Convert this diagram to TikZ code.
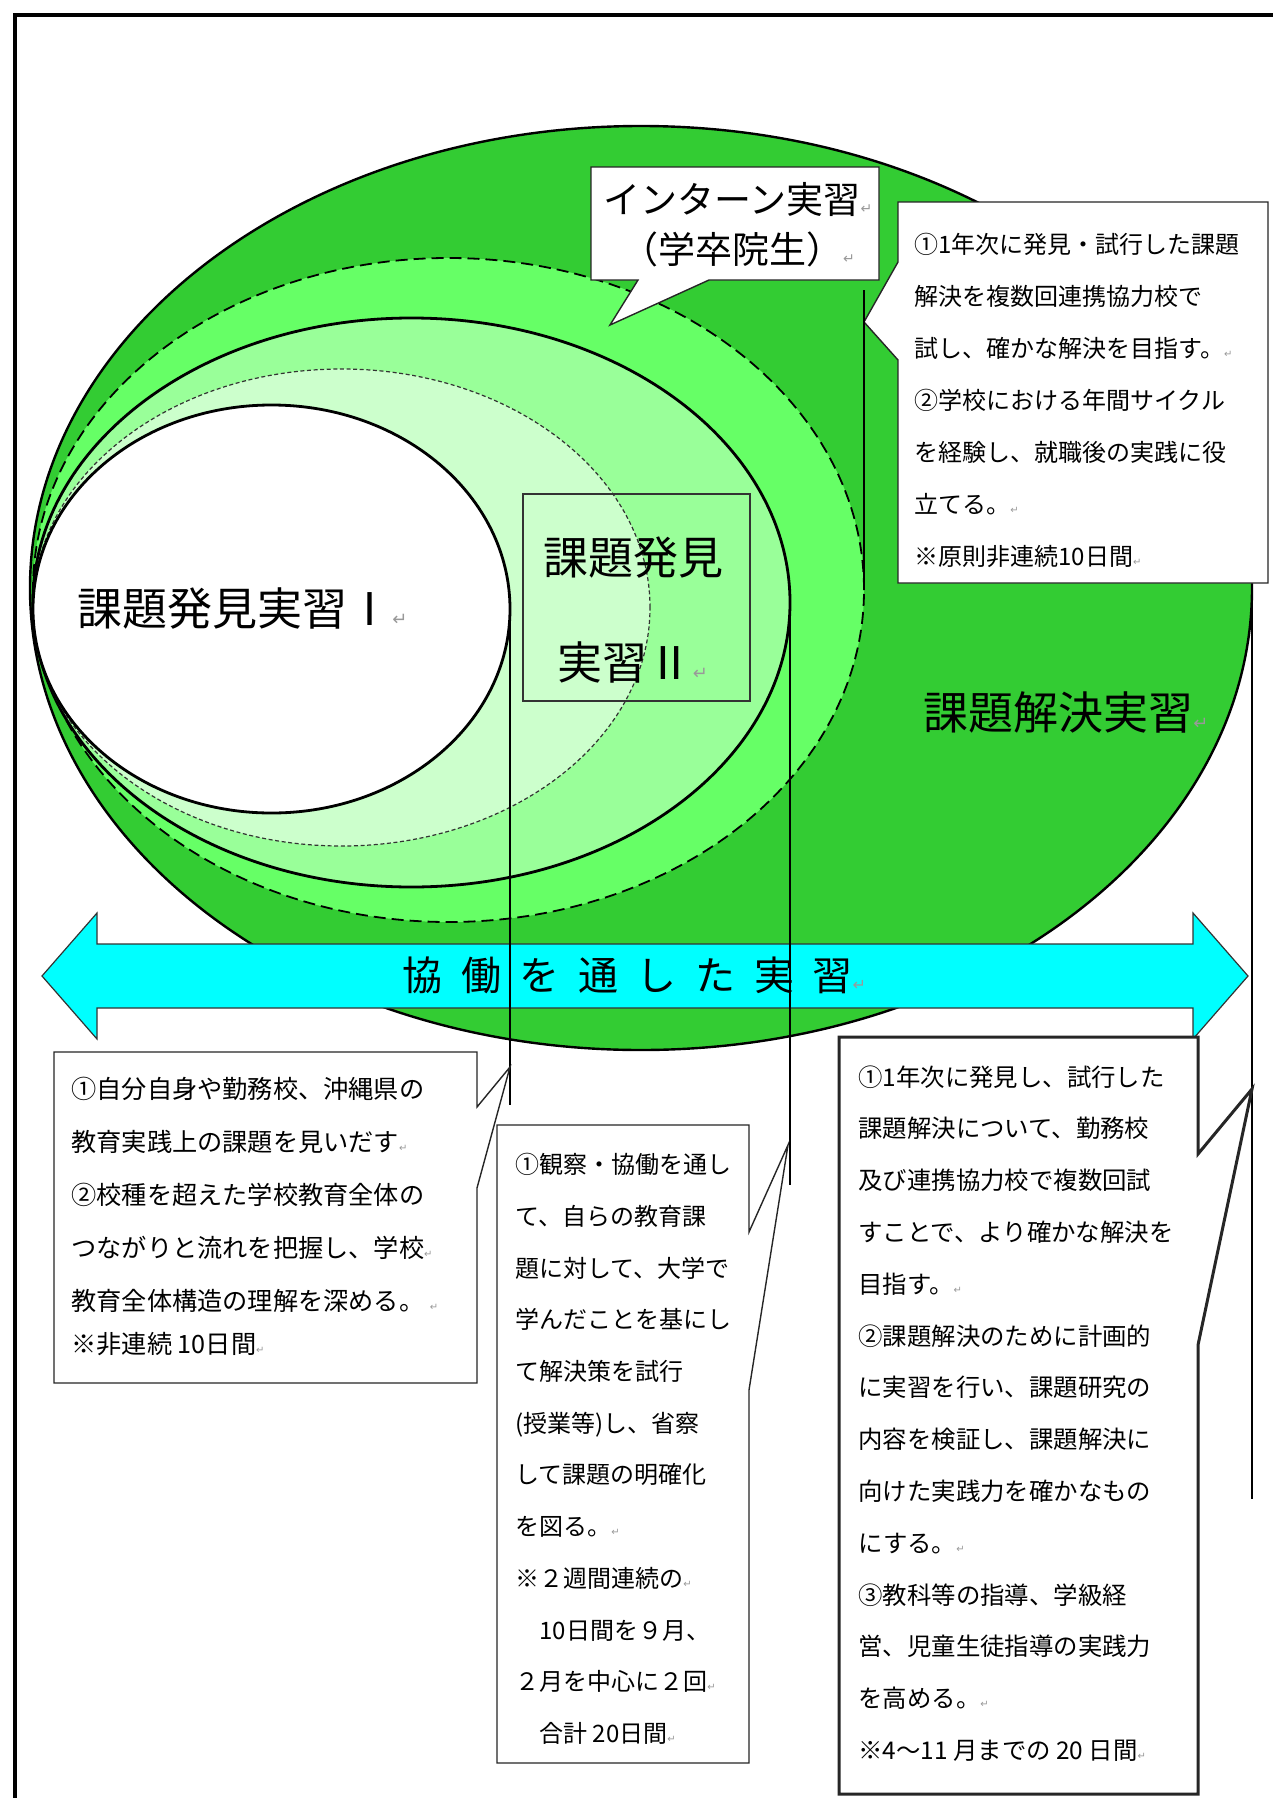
\documentclass[tikz,border=0pt]{standalone}
\usepackage{fontspec}
\setmainfont{Noto Sans CJK JP}
\newfontfamily\dv{DejaVu Sans}
\usetikzlibrary{shapes.geometric}
\definecolor{gA}{HTML}{33CC33}
\definecolor{gB}{HTML}{66FF66}
\definecolor{gC}{HTML}{99FF99}
\definecolor{gD}{HTML}{CCFFCC}
\definecolor{cyA}{HTML}{00FFFF}
\newcommand\pmk[1]{{\dv\color{black!40}\fontsize{#1}{#1}\selectfont ↵}}
\tikzset{
  ell/.style={ellipse, inner sep=0pt, outer sep=0pt},
  callout/.style={draw=black!85, line width=0.7pt, fill=white},
  ctext/.style={anchor=north west, inner sep=0pt, align=left},
  vline/.style={draw=black, line width=0.75pt},
  biglabel/.style={font=\fontsize{22.5}{27}\selectfont, inner sep=0pt},
}
\begin{document}
\begin{tikzpicture}[x=0.5pt,y=-0.5pt]
\useasboundingbox (0,0) rectangle (1273,1798);
\clip (0,0) rectangle (1273,1798);
\fill[white] (0,0) rectangle (1273,1798);
% frame
\draw[line width=2pt] (15,1900) -- (15,15) -- (1400,15);

% nested ellipses
\node[ell, fill=gA, draw=black, line width=1.2pt, minimum width=611pt, minimum height=462pt] (big) at (641,588) {};
\node[ell, fill=gB, draw=black, line width=0.9pt, dash pattern=on 6pt off 3pt, minimum width=415.5pt, minimum height=332pt] (dsh) at (448.5,590) {};
\node[ell, fill=gC, draw=black, line width=1.4pt, minimum width=378.5pt, minimum height=284.5pt] (sol) at (411.5,602.5) {};
\node[ell, fill=gD, draw=black!80, line width=0.6pt, dash pattern=on 2pt off 1.3pt, minimum width=308.5pt, minimum height=238.5pt] (dot) at (341.5,607.5) {};
\node[ell, fill=white, draw=black, line width=1.4pt, minimum width=238.5pt, minimum height=204pt] (wht) at (271.5,609) {};

% label box for practice II
\node[draw=black!80, line width=0.7pt, minimum width=113.5pt, minimum height=103.5pt, inner sep=0pt] (b2) at (636.5,597.5) {};

% labels
\node[biglabel, anchor=west] (t1) at (77,609) {課題発見実習Ⅰ\pmk{9}};
\node[biglabel, align=center] (t2) at (633,610) {課題発見\\[25.5pt]実習Ⅱ\pmk{9}};
\node[biglabel, anchor=west] (t3) at (923,712) {課題解決実習\pmk{9}};

% intern callout
\coordinate (itip) at (610,325);
\path[callout] (591,167) -- (879,167) -- (879,280) -- (709,280) -- (itip) -- (638,280) -- (591,280) -- cycle;
\node[font=\fontsize{18.5}{25}\selectfont, align=center, inner sep=0pt] (t4) at (738,225) {インターン実習\pmk{7}\\（学卒院生）\pmk{7}};

% top right callout
\coordinate (trtip) at (864,322);
\path[callout] (898,202) -- (1268,202) -- (1268,583) -- (898,583) -- (898,360) -- (trtip) -- (898,262) -- cycle;
\node[ctext, font=\fontsize{12}{26}\selectfont] (t5) at (914,233) {①1年次に発見・試行した課題\\
解決を複数回連携協力校で\\
試し、確かな解決を目指す。\pmk{5}\\
②学校における年間サイクル\\
を経験し、就職後の実践に役\\
立てる。\pmk{5}\\
※原則非連続10日間\pmk{5}};
\coordinate (e3) at (864,290);
\draw[vline] (dsh.east) -- (dsh.east |- e3);

% double arrow
\path[draw=black!80, line width=0.6pt, fill=cyA] (42,976) -- (97,913) -- (97,944) -- (1193,944) -- (1193,913) -- (1248,976) -- (1193,1039) -- (1193,1008) -- (97,1008) -- (97,1039) -- cycle;
\node[font=\fontsize{20}{20}\selectfont, anchor=west, inner sep=0pt] (t6) at (402,975) {協\hspace{9.3pt}働\hspace{9.3pt}を\hspace{9.3pt}通\hspace{9.3pt}し\hspace{9.3pt}た\hspace{9.3pt}実\hspace{9.3pt}習\pmk{8}};

% vertical leader lines
\coordinate (e1) at (511,1105);
\draw[vline] (wht.east) -- (wht.east |- e1);
\coordinate (e2) at (791,1185);
\draw[vline] (sol.east) -- (sol.east |- e2);
\coordinate (e4) at (1253,1499);
\draw[vline] (big.east) -- (big.east |- e4);

% left callout
\coordinate (ltip) at (510,1067);
\path[callout] (54,1052) -- (477,1052) -- (477,1107) -- (ltip) -- (477,1188) -- (477,1383) -- (54,1383) -- cycle;
\node[ctext, font=\fontsize{12.6}{26.5}\selectfont] (t7) at (71,1077) {①自分自身や勤務校、沖縄県の\\
教育実践上の課題を見いだす\pmk{5}\\
②校種を超えた学校教育全体の\\
つながりと流れを把握し、学校\pmk{5}\\
教育全体構造の理解を深める。\ \pmk{5}\\[-5pt]
※非連続 10日間\pmk{5}};

% middle callout
\coordinate (mtip) at (788,1145);
\path[callout] (497,1125) -- (749,1125) -- (749,1232) -- (mtip) -- (749,1390) -- (749,1763) -- (497,1763) -- cycle;
\node[ctext, font=\fontsize{12}{25.85}\selectfont] (t8) at (515,1153) {①観察・協働を通し\\
て、自らの教育課\\
題に対して、大学で\\
学んだことを基にし\\
て解決策を試行\\
(授業等)し、省察\\
して課題の明確化\\
を図る。\pmk{5}\\
※２週間連続の\pmk{5}\\
　10日間を９月、\\
２月を中心に２回\pmk{5}\\
　合計 20日間\pmk{5}};

% right callout
\coordinate (rtip) at (1252,1089);
\path[callout, line width=1.5pt] (839,1037) -- (1198,1037) -- (1198,1154) -- (rtip) -- (1198,1345) -- (1198,1794) -- (839,1794) -- cycle;
\node[ctext, font=\fontsize{12.2}{25.9}\selectfont] (t9) at (858,1065) {①1年次に発見し、試行した\\
課題解決について、勤務校\\
及び連携協力校で複数回試\\
すことで、より確かな解決を\\
目指す。\pmk{5}\\
②課題解決のために計画的\\
に実習を行い、課題研究の\\
内容を検証し、課題解決に\\
向けた実践力を確かなもの\\
にする。\pmk{5}\\
③教科等の指導、学級経\\
営、児童生徒指導の実践力\\
を高める。\pmk{5}\\
※4～11 月までの 20 日間\pmk{5}};
\end{tikzpicture}
\end{document}
